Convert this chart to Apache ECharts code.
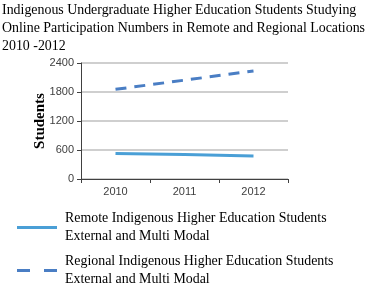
<!DOCTYPE html>
<html>
<head>
<meta charset="utf-8">
<script src="https://cdn.jsdelivr.net/npm/echarts@6/dist/echarts.min.js"></script>
<style>
html,body{margin:0;padding:0;background:#fff;}
#main{width:370px;height:287px;}
</style>
</head>
<body>
<div id="main"></div>
<script>
// data
var years=['2010','2011','2012'];
var remote=[530,505,478];
var regional=[1855,2045,2235];
var seriesNames=['Remote Indigenous Higher Education Students\nExternal and Multi Modal','Regional Indigenous Higher Education Students\nExternal and Multi Modal'];

var myChart=echarts.init(document.getElementById('main'));
var serif='"Liberation Serif","Times New Roman",serif';
var sans='"Liberation Sans",Arial,sans-serif';
var option={
	backgroundColor:'#fff',
	animation:false,
	title:{
		text:'Indigenous Undergraduate Higher Education Students Studying\nOnline Participation Numbers in Remote and Regional Locations\n2010 -2012',
		left:0,
		top:-4,
		padding:[5,2],
		textStyle:{fontFamily:serif,fontSize:13.9,fontWeight:'normal',color:'#000',lineHeight:18}
	},
	legend:{
		orient:'vertical',
		left:17,
		top:210,
		height:100,
		padding:0,
		itemWidth:40,
		itemHeight:14,
		itemGap:8,
		textStyle:{fontFamily:serif,fontSize:13.9,color:'#000',lineHeight:17.5,padding:[0,0,0,3]},
		data:[
			{name:seriesNames[0],icon:'path://M0,0L40,0L40,3L0,3Z'},
			{name:seriesNames[1],icon:'path://M0,0L13,0L13,3L0,3ZM27,0L40,0L40,3L27,3Z'}
		]
	},
	grid:{left:81,right:82,top:63,bottom:108},
	xAxis:{
		type:'category',
		data:years,
		boundaryGap:true,
		axisLine:{lineStyle:{color:'#404040',width:1}},
		axisTick:{show:true,length:4,lineStyle:{color:'#404040'}},
		axisLabel:{fontFamily:sans,fontSize:11,color:'#404040',margin:7}
	},
	yAxis:{
		type:'value',
		min:0,
		max:2400,
		interval:600,
		name:'Students',
		nameLocation:'middle',
		nameGap:33,
		nameMoveOverlap:false,
		nameTextStyle:{fontFamily:serif,fontSize:15,fontWeight:'bold',color:'#000'},
		axisLine:{show:true,lineStyle:{color:'#404040',width:1}},
		axisTick:{show:true,length:4,lineStyle:{color:'#404040'}},
		axisLabel:{fontFamily:sans,fontSize:11,color:'#404040',margin:7,formatter:function(v){return String(v);}},
		splitLine:{lineStyle:{color:'#bfbfbf',width:1.5}}
	},
	series:[
		{
			name:seriesNames[0],
			type:'line',
			data:remote,
			symbol:'none',
			itemStyle:{color:'#4a9fd6'},
			lineStyle:{color:'#4a9fd6',width:3}
		},
		{
			name:seriesNames[1],
			type:'line',
			data:regional,
			symbol:'none',
			itemStyle:{color:'#4a7ec4'},
			lineStyle:{color:'#4a7ec4',width:3,type:[11,8]}
		}
	]
};
myChart.setOption(option);
</script>
</body>
</html>
